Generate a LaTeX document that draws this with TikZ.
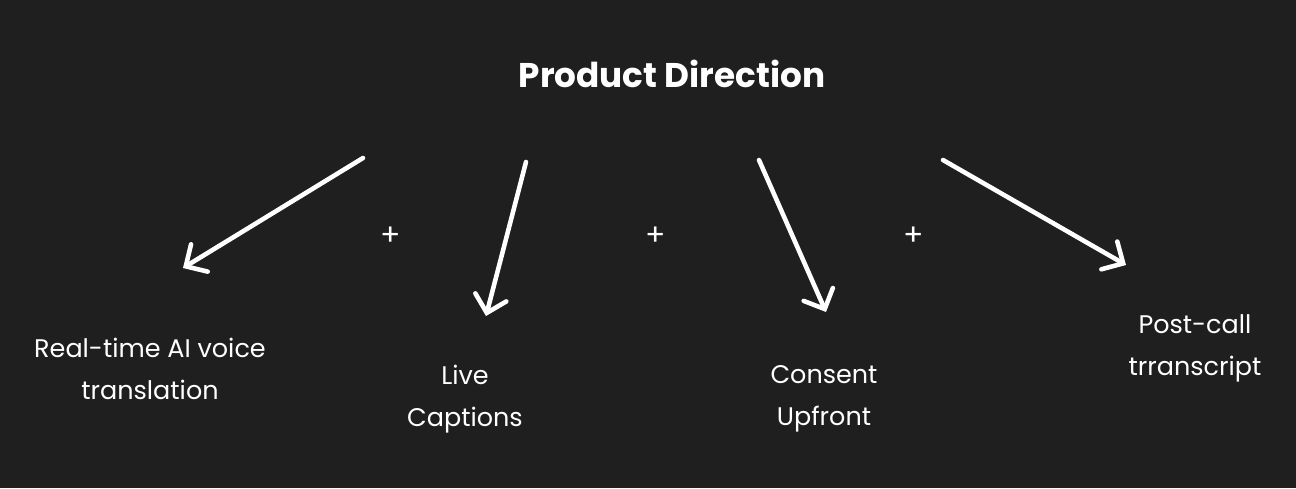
\documentclass[tikz,border=0pt]{standalone}
\usepackage{fontspec}
\setmainfont{Poppins}
\usepackage{tikz}
\usetikzlibrary{arrows.meta}
\definecolor{PDBack}{HTML}{1F1F1F}
\definecolor{PDInk}{HTML}{FFFFFF}

\begin{document}
\begin{tikzpicture}[
    x=0.02cm,y=-0.02cm,
    label/.style={text=PDInk,font=\fontsize{14.5}{23.8}\selectfont,align=center,inner sep=0pt},
    plus/.style={text=PDInk,font=\fontsize{17}{18}\selectfont,inner sep=0pt},
    arrow/.style={-{Straight Barb[length=3.2mm,width=6.4mm,line cap=round]},line width=2.6pt,line cap=round,color=PDInk}
  ]
    \fill[PDBack] (0,0) rectangle (1296,488);
    \useasboundingbox (0,0) rectangle (1296,488);
    \node[text=PDInk,font=\fontsize{19.5}{21}\selectfont\bfseries,inner sep=0pt] (title) at (672,74) {Product Direction};
    \foreach \n/\x/\y/\txt in {trans/150/369/{Real-time AI voice\\translation},
                               live/465/399/{Live\\Captions},
                               consent/824/399/{Consent\\Upfront},
                               post/1195/348/{Post-call\\trranscript}}
      \node[label] (\n) at (\x,\y) {\txt};
    \foreach \i/\x in {1/391,2/656,3/914}
      \node[plus] (p\i) at (\x,236) {+};
    \foreach \n/\ax/\ay/\bx/\by in {trans/363/158/183/268,live/526/162/486/316,consent/759/160/826/312,post/943/160/1126/265}{
      \coordinate (\n-s) at (\ax,\ay);
      \coordinate (\n-e) at (\bx,\by);
      \draw[arrow] (\n-s) -- (\n-e);
    }
  \end{tikzpicture}
\end{document}
